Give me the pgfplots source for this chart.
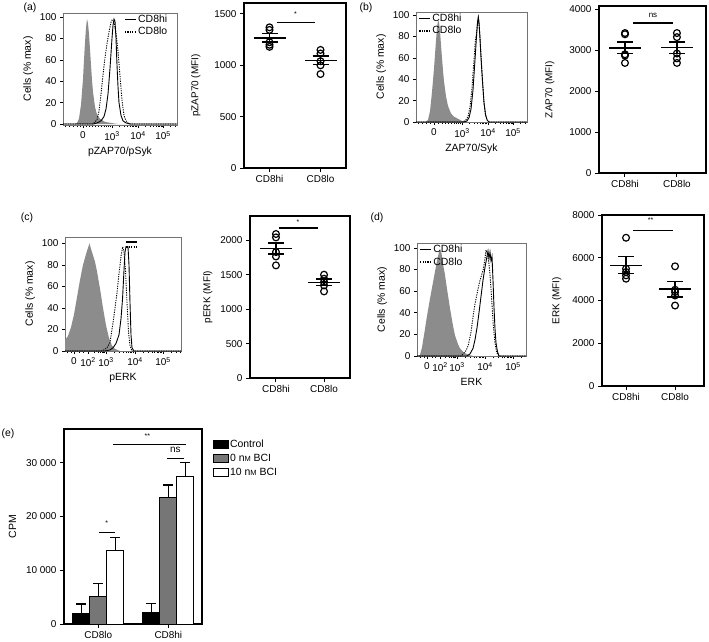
\documentclass[border=0pt]{standalone}
\usepackage{fontspec}
\setmainfont{Liberation Sans}
\usepackage{pgfplots}
\pgfplotsset{compat=1.18}

\definecolor{histgray}{RGB}{140,140,140}
\definecolor{bargray}{RGB}{118,118,118}
\newcommand{\ft}{\fontsize{10}{11.5}\selectfont}
\newcommand{\fl}{\fontsize{10.5}{12.5}\selectfont}
\newcommand{\dec}[1]{10\textsuperscript{#1}}

\pgfplotsset{
  every axis/.append style={
    scale only axis, anchor=south west,
    /pgf/number format/assume math mode=true,
    /pgf/number format/1000 sep={},
    scaled y ticks=false,
    tick label style={font=\ft},
    label style={font=\fl},
    tick align=outside, tick pos=left,
  },
  hist/.style={
    axis line style={black!55, line width=0.6pt},
    major tick length=3bp, minor tick length=2bp,
    every tick/.style={black, line width=0.5pt},
    xmin=0, ytick={0,20,40,60,80,100},
    ylabel={Cells (\% max)},
    legend style={draw=none, fill=none, font=\fl, inner sep=0pt,
      nodes={inner sep=1.2pt}, row sep=1pt},
    legend cell align=left,
    legend image code/.code={\draw[##1, line width=1.8pt] (0bp,0bp) -- (11bp,0bp);},
  },
  neg/.style={fill=histgray, draw=none, forget plot},
  hi/.style={black, line width=0.9pt},
  lo/.style={black, line width=0.9pt, dash pattern=on 1.2pt off 1.2pt},
  dot/.style={
    axis line style={line width=1.2pt},
    every tick/.style={black, line width=1pt},
    major tick length=4bp,
    xtick={1,2}, xticklabels={CD8hi,CD8lo}, ymin=0,
    label style={font=\ft},
  },
  pts/.style={black, only marks, mark=o, mark size=3.4bp, mark options={line width=1.2pt}},
  mn/.style={black, only marks, mark=-, mark size=16bp, mark options={line width=1.5pt},
    error bars/y dir=both, error bars/y explicit, error bars/error mark=|,
    error bars/error mark options={mark size=8bp, line width=1.5pt},
    error bars/error bar style={line width=1.5pt}},
  sig/.style={black, line width=1.2pt},
  bar/.style={ybar, bar width=17bp, bar shift=0pt, draw=black, line width=1pt,
    error bars/y dir=plus, error bars/y explicit, error bars/error mark=|,
    error bars/error mark options={mark size=5bp, line width=1.2pt},
    error bars/error bar style={line width=1.2pt}},
}

\begin{document}
\begin{tikzpicture}
\useasboundingbox (0,0) rectangle (709bp,-642bp);

% ---------- (a) histogram
\begin{axis}[hist, at={(63bp,-125bp)}, width=114bp, height=112bp,
  xmax=114, ymin=-0.9, ymax=103.7,
  xtick={20,49,75,100}, xticklabels={0,\dec{3},\dec{4},\dec{5}},
  minor xtick={2,6,10,14,17,23,26,29,32,35,38,41,43.5,45.5,47,56.7,61.2,64.4,66.8,68.8,70.5,72,73.3,82.7,87.2,90.4,92.8,94.8,96.5,98,99.3,107.7,112.2},
  xlabel={pZAP70/pSyk},
  legend style={at={(0.535,0.995)}, anchor=north west}]
\addplot[neg] coordinates {(0,0) (12,0) (14,1) (16,5) (18,18) (20,42) (21,60) (22,76) (23,90) (24,98) (25,94) (26,84) (27,70) (28,55) (29,41) (30,30) (32,16) (34,9) (37,5) (42,2) (48,1) (55,0) (114,0)} \closedcycle;
\addplot[hi] coordinates {(0,0) (30,0) (34,1) (38,3) (41,7) (43,14) (45,28) (47,52) (49,80) (50,92) (51,98) (52,96) (53,80) (54,55) (55,35) (56,20) (58,8) (60,3) (63,1) (68,0) (114,0)};
\addlegendentry{CD8hi}
\addplot[lo] coordinates {(0,0) (30,0) (34,4) (36,12) (38,28) (40,46) (42,62) (44,75) (46,86) (48,95) (49,97) (51,95) (53,85) (55,68) (57,45) (59,22) (61,8) (63,3) (66,0) (114,0)};
\addlegendentry{CD8lo}
\end{axis}

% ---------- (a) scatter
\begin{axis}[dot, at={(244bp,-168bp)}, width=102bp, height=165bp,
  xmin=0.5, xmax=2.5, ymax=1607, ytick={0,500,1000,1500},
  ylabel={pZAP70 (MFI)}, ylabel shift=7bp]
\addplot[pts] coordinates {(1,1370) (1,1345) (1,1225) (1,1200) (1,1180)
  (2,1150) (2,1115) (2,1040) (2,1000) (2,915)};
\addplot[mn] coordinates {(1,1265) += (0,45) -= (0,40) (2,1048) += (0,42) -= (0,38)};
\addplot[sig] coordinates {(1.14,1415) (1.9,1415)};
\node[font=\fontsize{7}{7}\selectfont] at (axis cs:1.51,1495) {*};
\end{axis}

% ---------- (b) histogram
\begin{axis}[hist, at={(416bp,-122bp)}, width=111bp, height=110bp,
  xmax=111, ymin=0, ymax=102.8,
  xtick={18,46,72,97}, xticklabels={0,\dec{3},\dec{4},\dec{5}},
  minor xtick={2,6,10,14,22,26,29,32,35,38,40.5,42.5,44.5,53.7,58.2,61.4,63.8,65.8,67.5,69,70.3,79.7,84.2,87.4,89.8,91.8,93.5,95,96.3,104.7,109.2},
  xlabel={ZAP70/Syk},
  legend style={at={(0.02,0.995)}, anchor=north west}]
\addplot[neg] coordinates {(0,0) (10,0) (12,2) (14,10) (16,28) (18,50) (20,76) (21,88) (22,95) (23,93) (24,85) (25,72) (26,60) (27,48) (28,38) (30,24) (32,15) (35,8) (38,5) (42,3) (46,1) (52,0) (111,0)} \closedcycle;
\addplot[hi] coordinates {(0,0) (48,0) (51,1) (53,4) (55,12) (57,30) (59,58) (60.5,80) (61.5,93) (62.3,98) (63,93) (64,78) (65,60) (66.5,38) (68,18) (69.5,7) (71,2) (73,0) (111,0)};
\addlegendentry{CD8hi}
\addplot[lo] coordinates {(0,0) (47,0) (50,2) (52,5) (54,14) (56,32) (58,58) (59.5,78) (60.5,82) (61.5,92) (62.3,97) (63.2,90) (64.2,76) (65.3,58) (66.5,38) (68,18) (69.5,7) (71,2) (73,0) (111,0)};
\addlegendentry{CD8lo}
\end{axis}

% ---------- (b) scatter
\begin{axis}[dot, at={(599bp,-173bp)}, width=107bp, height=167bp,
  xmin=0.5, xmax=2.56, ymax=4081, ytick={0,1000,2000,3000,4000},
  ylabel={ZAP70 (MFI)}, ylabel shift=8bp]
\addplot[pts] coordinates {(1,3420) (1,3390) (1,2900) (1,2870) (1,2690)
  (2,3420) (2,3320) (2,2920) (2,2800) (2,2690)};
\addplot[mn] coordinates {(1,3054) += (0,146) -= (0,137) (2,3064) += (0,136) -= (0,147)};
\addplot[sig] coordinates {(1.15,3666) (1.92,3666)};
\node[font=\fontsize{8}{8}\selectfont] at (axis cs:1.54,3860) {ns};
\end{axis}

% ---------- (c) histogram
\begin{axis}[hist, at={(65bp,-351bp)}, width=116bp, height=114bp,
  xmax=116, ymin=0, ymax=106,
  xtick={9,23,41,70,98}, xticklabels={0,\dec{2},\dec{3},\dec{4},\dec{5}},
  minor xtick={2,6,14,18,29,33,35.5,37,38.5,39.5,49.6,54.6,58.2,60.9,63.2,65.1,66.7,68.2,78.4,83.4,86.9,89.6,91.8,93.7,95.3,96.7,106.4,111.4,114.9},
  xlabel={pERK},
  legend style={at={(0.52,0.975)}, anchor=north west}]
\addplot[neg] coordinates {(0,10) (3,14) (6,22) (9,34) (12,50) (15,66) (18,80) (21,90) (23,96) (24.5,100) (26,95) (28,89) (30,83) (32,74) (35,58) (38,40) (41,24) (44,12) (47,5) (50,2) (55,0) (116,0)} \closedcycle;
\addplot[hi] coordinates {(0,0) (40,0) (45,1) (48,3) (51,7) (54,15) (56,30) (57.5,48) (59,75) (60,92) (61,97) (63,97) (64,80) (65,45) (66,15) (67,3) (69,0) (116,0)};
\addlegendentry{\mbox{}}
\addplot[lo] coordinates {(0,0) (36,0) (39,1) (42,3) (45,8) (48,26) (50,40) (52,54) (54,72) (56,88) (57.7,97) (59,92) (60.5,75) (62,45) (63.5,18) (65,5) (67,0) (116,0)};
\addlegendentry{\mbox{}}
\end{axis}

% ---------- (c) scatter
\begin{axis}[dot, at={(250bp,-378bp)}, width=100bp, height=162bp,
  xmin=0.46, xmax=2.54, ymax=2355, ytick={0,500,1000,1500,2000},
  ylabel={pERK (MFI)}, ylabel shift=1bp]
\addplot[pts] coordinates {(1,2093) (1,2044) (1,1831) (1,1767) (1,1637)
  (2,1502) (2,1443) (2,1395) (2,1346) (2,1259)};
\addplot[mn] coordinates {(1,1879) += (0,83) -= (0,77) (2,1390) += (0,50) -= (0,48)};
\addplot[sig] coordinates {(1.06,2180) (1.875,2180)};
\node[font=\fontsize{7}{7}\selectfont] at (axis cs:1.46,2270) {*};
\end{axis}

% ---------- (d) histogram
\begin{axis}[hist, at={(417bp,-356bp)}, width=109bp, height=113bp,
  xmax=109, ymin=0, ymax=104.4,
  xtick={10,23,40,68,96}, xticklabels={0,\dec{2},\dec{3},\dec{4},\dec{5}},
  minor xtick={3,7,15,18,28,32,34.5,36,37.5,38.5,48.4,53.4,56.9,59.6,61.8,63.7,65.3,66.7,76.4,81.4,84.9,87.6,89.8,91.7,93.3,94.7,104.4},
  xlabel={ERK},
  legend style={at={(0.02,0.995)}, anchor=north west}]
\addplot[neg] coordinates {(0,0) (3,1) (5,8) (8,25) (10,37) (13,53) (16,68) (18,78) (20,88) (22,96) (23,99) (24.5,95) (26,85) (28,75) (30,62) (33,44) (36,28) (38,19) (41,11) (43,7) (47,3) (52,1) (56,0) (109,0)} \closedcycle;
\addplot[hi] coordinates {(0,0) (50,0) (53,2) (56,7) (58,15) (60,26) (62,40) (64,55) (66,70) (68,82) (70,92) (71,97) (72,90) (73,96) (74,88) (75,92) (76,70) (77,45) (78,25) (79,12) (80.5,4) (82,0) (109,0)};
\addlegendentry{CD8hi}
\addplot[lo] coordinates {(0,0) (44,0) (46.3,2) (49,5) (51.3,10) (54,22) (56.3,38) (58,48) (59.7,56) (61.5,64) (63,70) (65,76) (66.3,80) (68,90) (69,98) (70.5,94) (72,85) (73,75) (74.5,55) (76.3,28) (78,12) (79.7,3) (82,0) (109,0)};
\addlegendentry{CD8lo}
\end{axis}

% ---------- (d) scatter
\begin{axis}[dot, at={(602bp,-386bp)}, width=102bp, height=171bp,
  xmin=0.51, xmax=2.59, ymax=8000, ytick={0,2000,4000,6000,8000},
  ylabel={ERK (MFI)}, ylabel shift=4bp]
\addplot[pts] coordinates {(1,6936) (1,5490) (1,5336) (1,5176) (1,5020)
  (2,5600) (2,4503) (2,4395) (2,4235) (2,3765)};
\addplot[mn] coordinates {(1,5647) += (0,423) -= (0,391) (2,4536) += (0,358) -= (0,376)};
\addplot[sig] coordinates {(1.15,7294) (1.95,7294)};
\node[font=\fontsize{7}{7}\selectfont] at (axis cs:1.5,7750) {**};
\end{axis}

% ---------- (e) bar chart (bars placed at group centre -/+ one bar width)
\begin{axis}[at={(64bp,-624bp)}, width=138bp, height=195bp,
  axis line style={line width=1.2pt},
  every tick/.style={black, line width=1pt}, major tick length=4bp,
  xmin=-0.49, xmax=1.48, ymin=0, ymax=36250,
  xtick={0,1}, xticklabels={CD8lo,CD8hi},
  ytick={0,10000,20000,30000}, yticklabels={0,10\ 000,20\ 000,30\ 000},
  ylabel={CPM}, ylabel shift=3bp,
  legend style={at={(1.075,0.955)}, anchor=north west, draw=none, fill=none,
    font=\fl, inner sep=0pt, nodes={inner sep=1.5pt}, row sep=2.5pt},
  legend cell align=left,
  legend image code/.code={\draw[#1, line width=1pt, draw=black] (0bp,-4bp) rectangle (15bp,4bp);}]
\addplot[bar, fill=black] coordinates {(-0.243,2040) += (0,1670) (0.757,2150) += (0,1620)};
\addlegendentry{Control}
\addplot[bar, fill=bargray] coordinates {(0,5120) += (0,2360) (1,23560) += (0,2280)};
\addlegendentry{0 n{\fontsize{7.5}{7.5}\selectfont M} BCI}
\addplot[bar, fill=white] coordinates {(0.243,13650) += (0,2490) (1.243,27380) += (0,2670)};
\addlegendentry{10 n{\fontsize{7.5}{7.5}\selectfont M} BCI}
\addplot[sig, forget plot] coordinates {(0.01,17070) (0.24,17070)};
\addplot[sig, forget plot] coordinates {(0.98,30800) (1.22,30800)};
\addplot[sig, forget plot] coordinates {(0.206,33400) (1.25,33400)};
\node[font=\fontsize{7}{7}\selectfont] at (axis cs:0.12,18700) {*};
\node[font=\fontsize{10}{10}\selectfont] at (axis cs:1.1,32300) {ns};
\node[font=\fontsize{7}{7}\selectfont] at (axis cs:0.7,34900) {**};
\end{axis}

% panel letters
\node[font=\fl] at (30bp,-8bp) {(a)};
\node[font=\fl] at (366bp,-8bp) {(b)};
\node[font=\fl] at (27bp,-218bp) {(c)};
\node[font=\fl] at (377bp,-218bp) {(d)};
\node[font=\fl] at (8bp,-434bp) {(e)};
\end{tikzpicture}
\end{document}
